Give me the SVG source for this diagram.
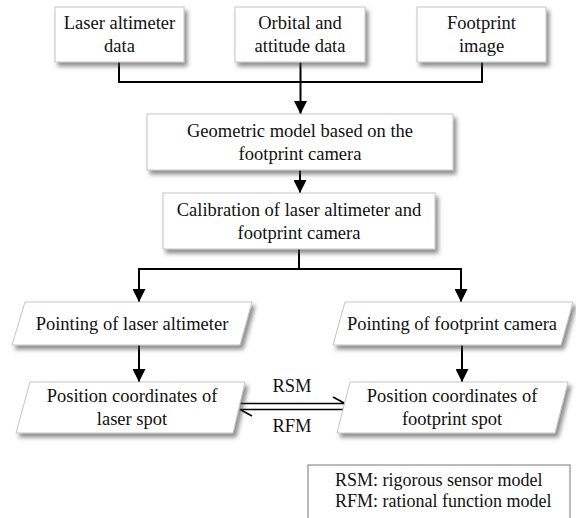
<svg xmlns="http://www.w3.org/2000/svg" width="576" height="518" viewBox="0 0 576 518">
<style>
.box{fill:#fff;stroke:#c4c4c4;stroke-width:1;filter:url(#sh)}
.t{font-family:"Liberation Serif","Times New Roman",serif;font-size:18.5px;fill:#111;text-anchor:middle}
.tl{font-family:"Liberation Serif","Times New Roman",serif;font-size:18px;fill:#111}
.c{fill:none;stroke:#000;stroke-width:2}
.d{fill:none;stroke:#000;stroke-width:1.6}
</style>
<defs>
<filter id="sh" x="-10%" y="-20%" width="130%" height="160%">
<feDropShadow dx="3" dy="4" stdDeviation="2" flood-color="#444" flood-opacity="0.6"/>
</filter>
<marker id="ah" markerUnits="userSpaceOnUse" markerWidth="13" markerHeight="13" refX="13" refY="6.5" orient="auto">
<path d="M0,0 L13,6.5 L0,13 z" fill="#000"/>
</marker>
</defs>
<rect width="576" height="518" fill="#fff"/>
<g id="connectors">
<path class="c" d="M119,62 V82 H482 V62"/>
<path class="c" d="M300.5,62 V114" marker-end="url(#ah)"/>
<path class="c" d="M300,170 V193" marker-end="url(#ah)"/>
<path class="c" d="M299,249 V269"/>
<path class="c" d="M139,269 H461"/>
<path class="c" d="M139,268 V302" marker-end="url(#ah)"/>
<path class="c" d="M461,268 V302" marker-end="url(#ah)"/>
<path class="c" d="M139,345 V382" marker-end="url(#ah)"/>
<path class="c" d="M462,345 V382" marker-end="url(#ah)"/>
<path class="d" d="M240,403.5 H345 L333,397"/>
<path class="d" d="M345,409.5 H240 L252,416"/>
<text class="t" x="292" y="392">RSM</text>
<text class="t" x="292" y="432">RFM</text>
</g>
<g id="n-laser-data">
<rect class="box" x="55" y="7" width="129" height="55"/>
<text class="t" x="119.5" y="28.5">Laser altimeter</text>
<text class="t" x="119.5" y="51.5">data</text>
</g>
<g id="n-orbital">
<rect class="box" x="235" y="7" width="130" height="55"/>
<text class="t" x="300" y="28.5">Orbital and</text>
<text class="t" x="300" y="51.5">attitude data</text>
</g>
<g id="n-footprint-image">
<rect class="box" x="417" y="7" width="129" height="55"/>
<text class="t" x="481.5" y="28.5">Footprint</text>
<text class="t" x="481.5" y="51.5">image</text>
</g>
<g id="n-geometric">
<rect class="box" x="147" y="114" width="306" height="56"/>
<text class="t" x="300" y="136.5">Geometric model based on the</text>
<text class="t" x="300" y="159.5">footprint camera</text>
</g>
<g id="n-calibration">
<rect class="box" x="163" y="193" width="272" height="56"/>
<text class="t" x="299" y="215.5">Calibration of laser altimeter and</text>
<text class="t" x="299" y="238.5">footprint camera</text>
</g>
<g id="n-pointing-laser">
<polygon class="box" points="25,302 252,302 240,345 12,345"/>
<text class="t" x="132" y="329.5">Pointing of laser altimeter</text>
</g>
<g id="n-pointing-camera">
<polygon class="box" points="345,302 573,302 561,345 333,345"/>
<text class="t" x="452" y="329.5">Pointing of footprint camera</text>
</g>
<g id="n-pos-laser">
<polygon class="box" points="30,382 245,382 233,433 16,433"/>
<text class="t" x="132" y="402">Position coordinates of</text>
<text class="t" x="132" y="425">laser spot</text>
</g>
<g id="n-pos-footprint">
<polygon class="box" points="350,382 568,382 555,433 337,433"/>
<text class="t" x="452" y="402">Position coordinates of</text>
<text class="t" x="452" y="425">footprint spot</text>
</g>
<g id="legend">
<rect x="308" y="465" width="262" height="70" fill="#fff" stroke="#777" stroke-width="1"/>
<text class="tl" x="335" y="486">RSM: rigorous sensor model</text>
<text class="tl" x="335" y="507">RFM: rational function model</text>
</g>
</svg>
